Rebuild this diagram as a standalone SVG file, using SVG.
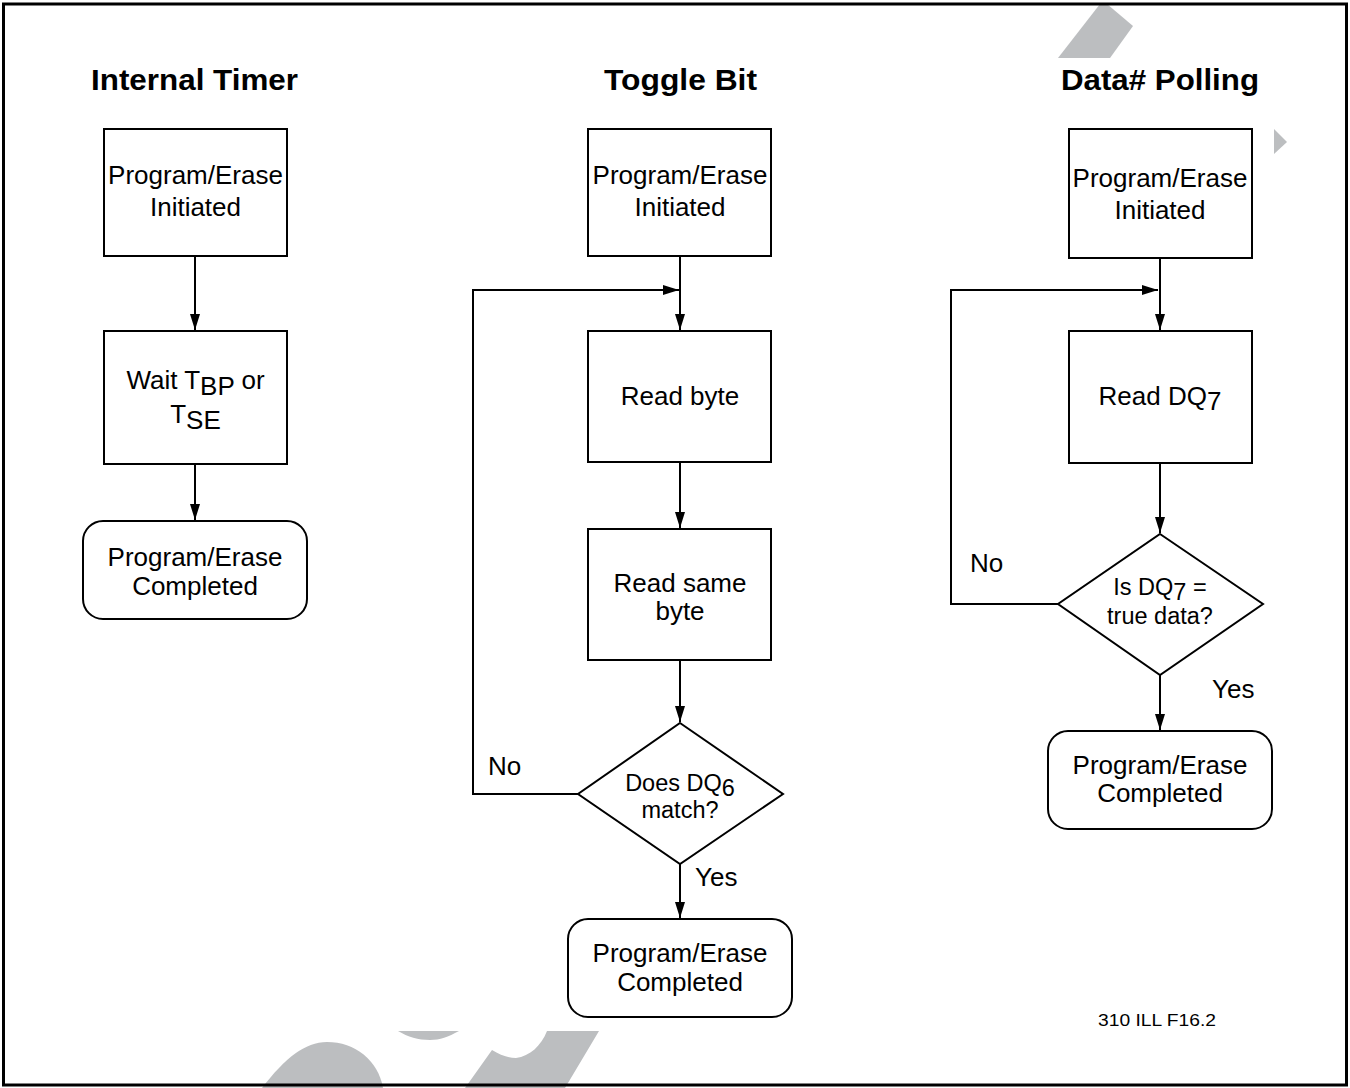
<svg xmlns="http://www.w3.org/2000/svg" width="1350" height="1088" viewBox="0 0 1350 1088">
<style>
.wm{fill:#bcbec0;stroke:none}
.box{fill:#fff;stroke:#000;stroke-width:2}
.t{font-family:"Liberation Sans",Arial,sans-serif;font-size:26px;fill:#000;text-anchor:middle}
.ts{font-family:"Liberation Sans",Arial,sans-serif;font-size:23.5px;fill:#000;text-anchor:middle}
.lbl{font-family:"Liberation Sans",Arial,sans-serif;font-size:26px;fill:#000}
.title{font-family:"Liberation Sans",Arial,sans-serif;font-size:30px;font-weight:bold;fill:#000;text-anchor:middle}
.c{fill:none;stroke:#000;stroke-width:2}
</style>
<defs>
<marker id="ah" markerUnits="userSpaceOnUse" markerWidth="16" markerHeight="10" refX="16" refY="5" orient="auto">
<path d="M0,0 L16,5 L0,10 Z" fill="#000"/>
</marker>
</defs>
<rect x="0" y="0" width="1350" height="1088" fill="#fff"/>
<g id="watermark">
<polygon class="wm" points="1100,4 1107,4 1133,26 1110,58 1058,58"/>
<polygon class="wm" points="1274,129 1287,142 1274,154"/>
<path class="wm" d="M262,1088 C285,1058 305,1042 327,1042 C355,1042 378,1060 383,1088 Z"/>
<path class="wm" d="M398,1031 L459,1031 C448,1037 440,1040 430,1040 C418,1040 408,1037 398,1031 Z"/>
<path class="wm" d="M465,1088 L492,1050 C500,1055 508,1058 516,1058 C530,1056 541,1046 547,1031 L599,1031 L565,1088 Z"/>
</g>
<rect id="frame" x="3.5" y="4" width="1343" height="1081" fill="none" stroke="#000" stroke-width="3"/>
<g id="titles">
<text class="title" x="194.5" y="90" textLength="207" lengthAdjust="spacingAndGlyphs">Internal Timer</text>
<text class="title" x="680.5" y="90" textLength="153" lengthAdjust="spacingAndGlyphs">Toggle Bit</text>
<text class="title" x="1160" y="90" textLength="198" lengthAdjust="spacingAndGlyphs">Data# Polling</text>
</g>
<g id="connectors">
<line class="c" x1="195" y1="256" x2="195" y2="330" marker-end="url(#ah)"/>
<line class="c" x1="195" y1="464" x2="195" y2="520" marker-end="url(#ah)"/>
<line class="c" x1="680" y1="256" x2="680" y2="330" marker-end="url(#ah)"/>
<polyline class="c" points="578,794 473,794 473,290 679,290" marker-end="url(#ah)"/>
<line class="c" x1="680" y1="462" x2="680" y2="528" marker-end="url(#ah)"/>
<line class="c" x1="680" y1="660" x2="680" y2="722" marker-end="url(#ah)"/>
<line class="c" x1="680" y1="864" x2="680" y2="918" marker-end="url(#ah)"/>
<line class="c" x1="1160" y1="258" x2="1160" y2="330" marker-end="url(#ah)"/>
<polyline class="c" points="1058,604 951,604 951,290 1158,290" marker-end="url(#ah)"/>
<line class="c" x1="1160" y1="463" x2="1160" y2="533" marker-end="url(#ah)"/>
<line class="c" x1="1160" y1="675" x2="1160" y2="730" marker-end="url(#ah)"/>
<text class="lbl" x="488" y="775">No</text>
<text class="lbl" x="695" y="886">Yes</text>
<text class="lbl" x="970" y="572">No</text>
<text class="lbl" x="1212" y="698">Yes</text>
</g>
<g id="it-start">
<rect class="box" x="104" y="129" width="183" height="127"/>
<text class="t" x="195.5" y="184">Program/Erase</text>
<text class="t" x="195.5" y="216">Initiated</text>
</g>
<g id="it-wait">
<rect class="box" x="104" y="331" width="183" height="133"/>
<text class="t" x="195.5" y="389">Wait T<tspan dy="6">BP</tspan><tspan dy="-6"> or</tspan></text>
<text class="t" x="195.5" y="423">T<tspan dy="6">SE</tspan></text>
</g>
<g id="it-done">
<rect class="box" x="83" y="521" width="224" height="98" rx="20"/>
<text class="t" x="195" y="566">Program/Erase</text>
<text class="t" x="195" y="595">Completed</text>
</g>
<g id="tb-start">
<rect class="box" x="588" y="129" width="183" height="127"/>
<text class="t" x="680" y="184">Program/Erase</text>
<text class="t" x="680" y="216">Initiated</text>
</g>
<g id="tb-read">
<rect class="box" x="588" y="331" width="183" height="131"/>
<text class="t" x="680" y="405">Read byte</text>
</g>
<g id="tb-read2">
<rect class="box" x="588" y="529" width="183" height="131"/>
<text class="t" x="680" y="592">Read same</text>
<text class="t" x="680" y="620">byte</text>
</g>
<g id="tb-decision">
<polygon class="box" points="680,723 783,794 680,864 578,794"/>
<text class="ts" x="680" y="791">Does DQ<tspan dy="5">6</tspan></text>
<text class="ts" x="680" y="818">match?</text>
</g>
<g id="tb-done">
<rect class="box" x="568" y="919" width="224" height="98" rx="20"/>
<text class="t" x="680" y="962">Program/Erase</text>
<text class="t" x="680" y="991">Completed</text>
</g>
<g id="dp-start">
<rect class="box" x="1069" y="129" width="183" height="129"/>
<text class="t" x="1160" y="187">Program/Erase</text>
<text class="t" x="1160" y="219">Initiated</text>
</g>
<g id="dp-read">
<rect class="box" x="1069" y="331" width="183" height="132"/>
<text class="t" x="1160" y="405">Read DQ<tspan dy="5">7</tspan></text>
</g>
<g id="dp-decision">
<polygon class="box" points="1160,534 1263,604 1160,675 1058,604"/>
<text class="ts" x="1160" y="595">Is DQ<tspan dy="5">7</tspan><tspan dy="-5"> =</tspan></text>
<text class="ts" x="1160" y="624">true data?</text>
</g>
<g id="dp-done">
<rect class="box" x="1048" y="731" width="224" height="98" rx="20"/>
<text class="t" x="1160" y="774">Program/Erase</text>
<text class="t" x="1160" y="802">Completed</text>
</g>
<text x="1157" y="1026" font-family="'Liberation Sans',Arial,sans-serif" font-size="17" text-anchor="middle" fill="#000" textLength="118" lengthAdjust="spacingAndGlyphs">310 ILL F16.2</text>
</svg>
